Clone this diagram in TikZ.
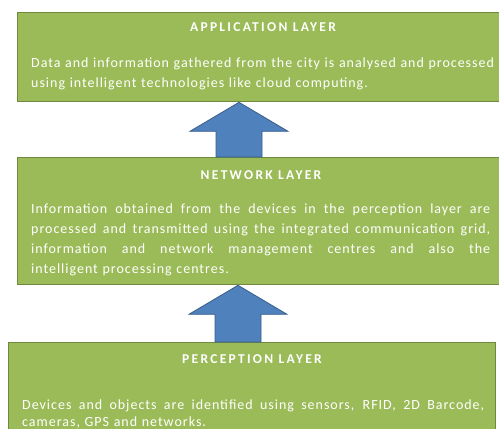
\documentclass[tikz,border=0pt]{standalone}
\usepackage{fontspec}
\setmainfont{Carlito}
\newfontfamily\layerbody[LetterSpace=7]{Carlito}
\newfontfamily\layertitle[LetterSpace=17]{Carlito}
\usetikzlibrary{calc}
\definecolor{layergreen}{HTML}{9BBB59}
\definecolor{layeredge}{HTML}{71893F}
\definecolor{arrowblue}{HTML}{4F81BD}
\definecolor{arrowedge}{HTML}{385D8A}
\tikzset{
	layer/.style={draw=layeredge, line width=1.3pt, fill=layergreen, inner sep=0pt, anchor=north west},
	layerhead/.style={text=white, anchor=base, font=\layertitle\fontsize{13.5}{15}\selectfont\bfseries},
	layertext/.style={text=white, anchor=north west, inner sep=0pt, align=left, font=\layerbody\fontsize{14}{20}\selectfont},
	blockarrow/.style={draw=arrowedge, line width=0.8pt, fill=arrowblue, line join=miter}
}
% #1 = tip, #2 = foot (only its height is used)
\def\layerarrow(#1)(#2){\draw[blockarrow] let \p1=(#1), \p2=(#2) in
	(\x1,\y1) -- (\x1+49pt,\y1-29pt) -- (\x1+23pt,\y1-29pt) -- (\x1+23pt,\y2)
	-- (\x1-23pt,\y2) -- (\x1-23pt,\y1-29pt) -- (\x1-49pt,\y1-29pt) -- cycle;}
% justified line: spaces stretch to fill the width
\def\fillline#1#2{\makebox[#1][s]{\spaceskip=0.25em plus 1fil\relax#2}}

\begin{document}
\begin{tikzpicture}[x=1pt, y=-1pt]
	%%%%% START %%%%%
	\clip (0, 0) rectangle (499, 429);
	
	\node[layer, minimum width=488pt, minimum height=89pt] (app) at (17, 12) {};
	\node[layerhead] (apphead) at (263, 31.5) {APPLICATION LAYER};
	\node[layertext, text width=475pt] (apptext) at (31, 57.5)
		{Data and information gathered from the city is analysed and processed\\
		 using intelligent technologies like cloud computing.};
	
	\node[layer, minimum width=488pt, minimum height=127pt] (net) at (17, 157) {};
	\node[layerhead] (nethead) at (261, 179) {NETWORK LAYER};
	\node[layertext, text width=459pt] (nettext) at (31, 203.5)
		{\fillline{459pt}{Information obtained from the devices in the perception layer are}\\
		 \fillline{459pt}{processed and transmitted using the integrated communication grid,}\\
		 \fillline{459pt}{information and network management centres and also the}\\
		 intelligent processing centres.};
	
	\node[layer, minimum width=487pt, minimum height=110pt] (per) at (8, 342) {};
	\node[layerhead] (perhead) at (252, 363) {PERCEPTION LAYER};
	\node[layertext, text width=462pt, font=\layerbody\fontsize{14}{17.5}\selectfont] (pertext) at (22, 399.5)
		{\fillline{462pt}{Devices and objects are identified using sensors, RFID, 2D Barcode,}\\
		 cameras, GPS and networks.};
	
	\coordinate (tipone) at ($(app.south west)+(222, 0)$);
	\coordinate (tiptwo) at ($(net.south west)+(221, 0)$);
	\layerarrow(tipone)(net.north)
	\layerarrow(tiptwo)(per.north)
	%%%%% END %%%%%
\end{tikzpicture}
\end{document}
